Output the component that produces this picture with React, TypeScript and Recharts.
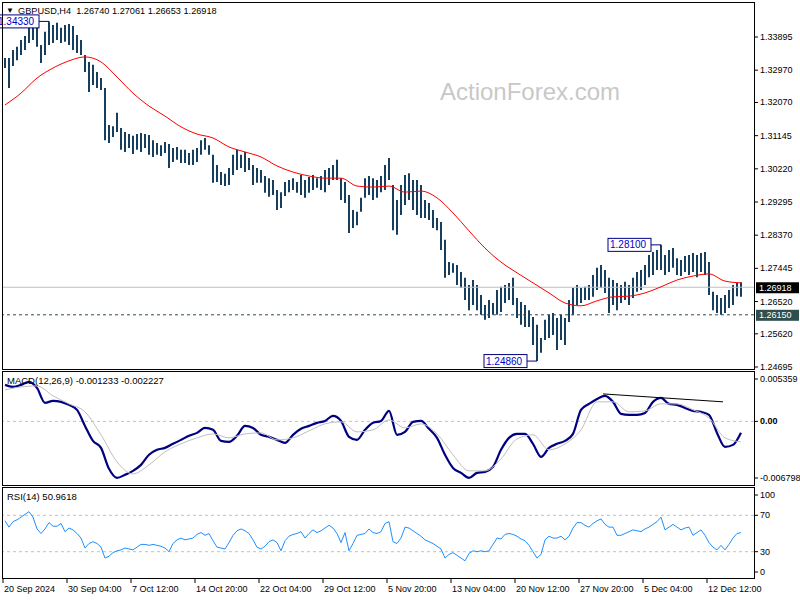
import { Bar, ComposedChart, Line, LineChart, ReferenceDot, ReferenceLine, XAxis, YAxis } from 'recharts';

const FONT = "'Liberation Sans', Arial, sans-serif";

// header
const symbol = 'GBPUSD,H4';
const lastOhlc = ['1.26740', '1.27061', '1.26653', '1.26918'];
const currentPrice = 1.26918;
const supportLevel = 1.2615;

// H4 bars, every other bar kept (oldest first)
const barHighs = [
  1.3331, 1.3331, 1.3353, 1.3362, 1.3381, 1.3392, 1.3423, 1.3429, 1.3423, 1.3367,
  1.3404, 1.3433, 1.3423, 1.3429, 1.3415, 1.3423, 1.3426, 1.342, 1.3395, 1.3381,
  1.3339, 1.332, 1.3312, 1.3292, 1.3275, 1.3247, 1.3144, 1.3141, 1.3178, 1.3136,
  1.3125, 1.3119, 1.3114, 1.3119, 1.3122, 1.3119, 1.3116, 1.3102, 1.3094, 1.3088,
  1.3097, 1.3091, 1.308, 1.3083, 1.3075, 1.3075, 1.3066, 1.3075, 1.308, 1.3102,
  1.3108, 1.3088, 1.3061, 1.3033, 1.3013, 1.3008, 1.3024, 1.3061, 1.3075, 1.3061,
  1.3069, 1.3052, 1.3033, 1.3024, 1.3019, 1.3002, 1.2996, 1.2991, 1.2963, 1.2957,
  1.2985, 1.2991, 1.2996, 1.2985, 1.3005, 1.2991, 1.2999, 1.3005, 1.2996, 1.3002,
  1.3019, 1.3024, 1.3033, 1.3047, 1.2996, 1.2985, 1.2949, 1.2907, 1.2902, 1.2941,
  1.2996, 1.3002, 1.2996, 1.2991, 1.3002, 1.3033, 1.3052, 1.2977, 1.2935, 1.2977,
  1.3005, 1.301, 1.2991, 1.2991, 1.2977, 1.2935, 1.2927, 1.2907, 1.2885, 1.2874,
  1.2824, 1.2762, 1.2759, 1.2754, 1.2734, 1.2718, 1.2698, 1.2712, 1.2698, 1.267,
  1.2642, 1.2656, 1.2648, 1.2684, 1.2693, 1.2698, 1.2704, 1.2718, 1.2662, 1.2651,
  1.2642, 1.2628, 1.2609, 1.2587, 1.255, 1.2601, 1.2615, 1.262, 1.2606, 1.2615,
  1.2606, 1.2656, 1.269, 1.2698, 1.269, 1.2693, 1.2698, 1.2726, 1.2746, 1.2754,
  1.274, 1.2718, 1.2712, 1.2704, 1.2698, 1.2707, 1.2698, 1.2718, 1.2734, 1.274,
  1.2754, 1.2782, 1.279, 1.2796, 1.281, 1.2782, 1.2796, 1.2801, 1.2773, 1.2768,
  1.2779, 1.2782, 1.2787, 1.2782, 1.2787, 1.279, 1.2762, 1.2679, 1.267, 1.2662,
  1.267, 1.2684, 1.2698, 1.2704, 1.27061,
];
const barLows = [
  1.3303, 1.3247, 1.3309, 1.3325, 1.3339, 1.3353, 1.3373, 1.3381, 1.3362, 1.3317,
  1.3339, 1.3367, 1.3373, 1.3381, 1.3373, 1.3376, 1.3367, 1.3353, 1.3345, 1.3339,
  1.3292, 1.3236, 1.3256, 1.3247, 1.3242, 1.3102, 1.3094, 1.3111, 1.3125, 1.3075,
  1.3069, 1.308, 1.3063, 1.3075, 1.3069, 1.308, 1.3061, 1.3055, 1.3061, 1.3058,
  1.3066, 1.3024, 1.3041, 1.3047, 1.3038, 1.3038, 1.3033, 1.3033, 1.3041, 1.3061,
  1.3075, 1.3061, 1.2983, 1.2985, 1.2977, 1.2974, 1.2977, 1.3005, 1.3019, 1.3024,
  1.3013, 1.3019, 1.2977, 1.2983, 1.2983, 1.2955, 1.2944, 1.2949, 1.2907, 1.2913,
  1.2946, 1.2957, 1.2963, 1.2955, 1.2949, 1.2941, 1.2955, 1.2963, 1.2969, 1.2963,
  1.2957, 1.2977, 1.2991, 1.2991, 1.2935, 1.2927, 1.2843, 1.2857, 1.2865, 1.2902,
  1.2941, 1.2949, 1.2935, 1.2941, 1.2957, 1.2963, 1.2991, 1.2851, 1.2838, 1.2893,
  1.2921, 1.2935, 1.2907, 1.2893, 1.2885, 1.2885, 1.2879, 1.2857, 1.2851, 1.2796,
  1.2718, 1.2726, 1.2732, 1.2698, 1.269, 1.2656, 1.2628, 1.2642, 1.2628, 1.2615,
  1.2601, 1.2606, 1.2615, 1.2615, 1.2623, 1.2648, 1.2656, 1.2642, 1.2606, 1.2587,
  1.2581, 1.2581, 1.2531, 1.2486, 1.2509, 1.2545, 1.255, 1.2559, 1.2517, 1.2545,
  1.2531, 1.2595, 1.2615, 1.2642, 1.2648, 1.2656, 1.2656, 1.2665, 1.2684, 1.269,
  1.2676, 1.262, 1.2642, 1.2628, 1.2648, 1.2656, 1.2642, 1.2662, 1.2679, 1.2684,
  1.2698, 1.272, 1.2726, 1.274, 1.274, 1.2726, 1.2734, 1.2746, 1.2726, 1.2723,
  1.2734, 1.2726, 1.2734, 1.272, 1.2734, 1.2726, 1.267, 1.2628, 1.262, 1.2615,
  1.262, 1.2634, 1.2642, 1.2667, 1.26653,
];

// moving average, one value every 4th kept bar
const maValues = [
  1.32, 1.3233, 1.3275, 1.3303, 1.3323, 1.3334, 1.332, 1.3278, 1.3233, 1.3197,
  1.3169, 1.3139, 1.3119, 1.3108, 1.3083, 1.3069, 1.3055, 1.303, 1.3013, 1.3002,
  1.2996, 1.2996, 1.2974, 1.2971, 1.2974, 1.2957, 1.296, 1.2941, 1.2899, 1.2849,
  1.2801, 1.2762, 1.2732, 1.2704, 1.2676, 1.2648, 1.264, 1.2654, 1.2665, 1.2667,
  1.2676, 1.2693, 1.2712, 1.2723, 1.2729, 1.2709, 1.2704,
];

// MACD main line, every 2nd kept bar
const macdValues = [
  0.00396, 0.00374, 0.00396, 0.00429, 0.00363, 0.00201, 0.00222, 0.00212, 0.00179, 0.00125,
  -0.00049, -0.00212, -0.00288, -0.00515, -0.00613, -0.0058, -0.00537, -0.00472, -0.00363, -0.00309,
  -0.00288, -0.00244, -0.00201, -0.00157, -0.00125, -0.00071, -0.00092, -0.00212, -0.00222, -0.00157,
  -0.00049, -0.00071, -0.00146, -0.00168, -0.00201, -0.00233, -0.00146, -0.00081, -0.00049, -0.00016,
  0.00005, 0.0006, 0.00005, -0.00168, -0.00201, -0.00092, -0.00016, 0.00005, 0.00114, -0.00146,
  -0.00114, -0.00005, 0.00005, -0.00081, -0.00179, -0.00363, -0.00505, -0.00559, -0.00613, -0.00559,
  -0.00548, -0.00494, -0.00309, -0.00179, -0.00136, -0.00136, -0.00244, -0.00385, -0.00288, -0.00244,
  -0.00212, -0.00136, 0.00125, 0.0019, 0.00244, 0.00277, 0.00212, 0.00081, 0.00071, 0.00071,
  0.00092, 0.00212, 0.00255, 0.0019, 0.00179, 0.00146, 0.00114, 0.00103, 0.00071, -0.00125,
  -0.00277, -0.00255, -0.001233,
];
// MACD signal line, every 4th kept bar
const signalValues = [
  0.00342, 0.00374, 0.00385, 0.00277, 0.0019, 0.00103, -0.00146, -0.00439, -0.0057, -0.00472,
  -0.00331, -0.00244, -0.00179, -0.00136, -0.00179, -0.00136, -0.00125, -0.00201, -0.00179, -0.00103,
  -0.00027, -0.00005, -0.00114, -0.00092, 0.00016, -0.00071, -0.00027, -0.00136, -0.00363, -0.00537,
  -0.00537, -0.00407, -0.0019, -0.00146, -0.00309, -0.00244, -0.00092, 0.00212, 0.00212, 0.00103,
  0.00114, 0.0019, 0.0019, 0.00125, 0.00038, -0.00179, -0.002227,
];
const macdMax = 0.005359;
const macdMin = -0.006798;
const macdTrend = [
  { x: 149.5, y: 0.00298 },
  { x: 179.5, y: 0.00212 },
];

// RSI(14), every kept bar
const rsiValues = [
  64, 57, 63, 65, 68, 71, 74, 68, 55, 50,
  55, 62, 58, 58, 61, 52, 56, 54, 50, 45,
  34, 39, 41, 39, 35, 23, 25, 29, 31, 32,
  34, 33, 32, 35, 38, 38, 37, 38, 37, 36,
  34, 30, 39, 43, 45, 43, 44, 45, 49, 51,
  48, 50, 42, 35, 34, 33, 40, 48, 53, 55,
  53, 50, 43, 35, 33, 36, 41, 43, 40, 31,
  42, 47, 49, 50, 52, 45, 50, 54, 51, 53,
  56, 59, 56, 50, 40, 51, 31, 39, 48, 49,
  50, 55, 51, 50, 52, 61, 63, 41, 39, 45,
  57, 56, 53, 50, 47, 43, 41, 39, 36, 33,
  23, 27, 29, 26, 23, 20, 28, 31, 30, 31,
  30, 31, 38, 45, 44, 49, 50, 49, 47, 44,
  42, 37, 30, 23, 27, 43, 47, 45, 45, 47,
  43, 47, 56, 62, 62, 59, 57, 61, 64, 66,
  60, 57, 57, 48, 48, 50, 52, 54, 53, 52,
  55, 57, 60, 63, 68, 54, 57, 60, 57, 54,
  56, 57, 48, 51, 54, 48, 40, 35, 32, 37,
  32, 38, 45, 50, 50.9618,
];

const priceTicks = [1.33895, 1.3297, 1.3207, 1.31145, 1.3022, 1.29295, 1.2837, 1.27445, 1.2652, 1.2562, 1.24695];
const rsiTicks = [0, 30, 70, 100];
const dateLabels = [
  '20 Sep 2024', '30 Sep 04:00', '7 Oct 12:00', '14 Oct 20:00', '22 Oct 04:00', '29 Oct 12:00',
  '5 Nov 20:00', '13 Nov 04:00', '20 Nov 12:00', '27 Nov 20:00', '5 Dec 04:00', '12 Dec 12:00',
];
const dateTickBars = [-0.5, 15.5, 31.5, 47.5, 63.5, 79.5, 95.5, 111.5, 127.5, 143.5, 159.5, 175.5];

const extremes = [
  { bar: 11, price: 1.3433, text: '1.34330' },
  { bar: 164, price: 1.281, text: '1.28100' },
  { bar: 133, price: 1.2486, text: '1.24860' },
];

const mainRows = barHighs.map((high, j) => ({
  j,
  range: [barLows[j], high],
  ma: j % 4 === 0 ? maValues[j / 4] : null,
}));
const macdRows = barHighs.map((_, j) => ({
  j,
  macd: j % 2 === 0 ? macdValues[j / 2] : null,
  signal: j % 4 === 0 ? signalValues[j / 4] : null,
}));
const rsiRows = rsiValues.map((rsi, j) => ({ j, rsi }));

const X_DOMAIN = [-0.5, 187.25];

const PriceTick = ({ x, y, payload }: any) => (
  <text x={x} y={y + 3} fontSize={9} fontFamily={FONT} fill="#000">
    {Number(payload.value).toFixed(5)}
  </text>
);

const MacdTick = ({ x, y, payload }: any) => {
  const v = payload.value;
  const ly = v === macdMax ? y + 7 : v === macdMin ? y - 6 : y;
  const label = v === 0 ? '0.00' : String(v);
  return (
    <g>
      <line x1={x - 5} x2={x - 2} y1={ly} y2={ly} stroke="#000" />
      <text x={x} y={ly + 3} fontSize={9} fontFamily={FONT} fill="#000" fontWeight={v === 0 ? 'bold' : 'normal'}>
        {label}
      </text>
    </g>
  );
};

const RsiTick = ({ x, y, payload }: any) => {
  const v = payload.value;
  const ly = v === 100 ? y + 7 : v === 0 ? y - 7 : y;
  return (
    <g>
      <line x1={x - 5} x2={x - 2} y1={ly} y2={ly} stroke="#000" />
      <text x={x} y={ly + 3} fontSize={9} fontFamily={FONT} fill="#000">
        {v}
      </text>
    </g>
  );
};

const DateTick = ({ x, y, payload }: any) => {
  const idx = dateTickBars.indexOf(payload.value);
  return (
    <text x={x + 1} y={y + 7} fontSize={9} fontFamily={FONT} fill="#000">
      {dateLabels[idx]}
    </text>
  );
};

const priceTag = (text: string, bg: string) => (props: any) => {
  const vb = props.viewBox;
  const right = vb.x + vb.width;
  return (
    <g>
      <rect x={right + 2} y={vb.y - 5} width={43} height={11} fill={bg} />
      <text x={right + 5} y={vb.y + 3.5} fontSize={9} fontFamily={FONT} fill="#fff">
        {text}
      </text>
    </g>
  );
};

const extremeShape = (text: string) => (p: any) => (
  <g>
    <line x1={p.cx - 10} x2={p.cx} y1={p.cy} y2={p.cy} stroke="#000080" />
    <rect x={p.cx - 53} y={p.cy - 6.5} width={43} height={13} fill="#fff" stroke="#000080" />
    <text x={p.cx - 51} y={p.cy + 3.5} fontSize={10} fontFamily={FONT} fill="#0000cd">
      {text}
    </text>
  </g>
);

export default function App() {
  return (
    <div style={{ position: 'absolute', left: 0, top: 0, width: 800, height: 600, background: '#fff' }}>
      <div style={{ position: 'absolute', left: 0, top: 0 }}>
        <ComposedChart width={800} height={372} data={mainRows} margin={{ top: 2, right: 0, bottom: 3, left: 3 }}>
          <XAxis type="number" dataKey="j" domain={X_DOMAIN} allowDataOverflow hide />
          <YAxis
            orientation="right"
            width={46}
            domain={[1.24639, 1.34871]}
            allowDataOverflow
            ticks={priceTicks}
            interval={0}
            tickSize={4}
            tickMargin={2}
            axisLine={false}
            tickLine={{ stroke: '#000' }}
            tick={<PriceTick />}
          />
          <ReferenceLine y={currentPrice} stroke="#c0c0c0" label={priceTag('1.26918', '#000')} />
          <ReferenceLine y={supportLevel} stroke="#2f4f4f" strokeDasharray="3 3" label={priceTag('1.26150', '#2f4f4f')} />
          <Bar dataKey="range" barSize={2} fill="#163f5f" isAnimationActive={false} />
          <Line dataKey="ma" type="monotone" stroke="#ff0000" strokeWidth={1} dot={false} connectNulls isAnimationActive={false} />
          {extremes.map((e) => (
            <ReferenceDot key={e.text} x={e.bar} y={e.price} r={0} ifOverflow="hidden" shape={extremeShape(e.text)} />
          ))}
        </ComposedChart>
      </div>

      <div style={{ position: 'absolute', left: 0, top: 372 }}>
        <LineChart width={800} height={112} data={macdRows} margin={{ top: 0, right: 0, bottom: 0, left: 3 }}>
          <XAxis type="number" dataKey="j" domain={X_DOMAIN} allowDataOverflow hide />
          <YAxis
            orientation="right"
            width={46}
            domain={[macdMin, macdMax]}
            allowDataOverflow
            ticks={[macdMax, 0, macdMin]}
            interval={0}
            tickSize={4}
            tickMargin={2}
            axisLine={false}
            tickLine={false}
            tick={<MacdTick />}
          />
          <ReferenceLine y={0} stroke="#c0c0c0" strokeDasharray="3 3" />
          <Line dataKey="macd" type="monotone" stroke="#000080" strokeWidth={2.2} dot={false} connectNulls isAnimationActive={false} />
          <Line dataKey="signal" type="monotone" stroke="#c0c0c0" strokeWidth={1} dot={false} connectNulls isAnimationActive={false} />
          <ReferenceLine segment={macdTrend} stroke="#000" />
        </LineChart>
      </div>

      <div style={{ position: 'absolute', left: 0, top: 488 }}>
        <LineChart width={800} height={113} data={rsiRows} margin={{ top: 0, right: 0, bottom: 0, left: 3 }}>
          <XAxis
            type="number"
            dataKey="j"
            domain={X_DOMAIN}
            allowDataOverflow
            ticks={dateTickBars}
            interval={0}
            height={22}
            tickSize={4}
            tickMargin={2}
            axisLine={false}
            tickLine={{ stroke: '#000' }}
            tick={<DateTick />}
          />
          <YAxis
            orientation="right"
            width={46}
            domain={[0, 100]}
            allowDataOverflow
            ticks={rsiTicks}
            interval={0}
            tickSize={4}
            tickMargin={2}
            axisLine={false}
            tickLine={false}
            tick={<RsiTick />}
          />
          <ReferenceLine y={70} stroke="#c0c0c0" strokeDasharray="3 3" />
          <ReferenceLine y={30} stroke="#c0c0c0" strokeDasharray="3 3" />
          <Line dataKey="rsi" type="linear" stroke="#1e90ff" strokeWidth={1} dot={false} isAnimationActive={false} />
        </LineChart>
      </div>

      <svg width={800} height={600} style={{ position: 'absolute', left: 0, top: 0, pointerEvents: 'none' }}>
        <rect x={2.5} y={2.5} width={752} height={367} fill="none" stroke="#000" />
        <rect x={2.5} y={371.5} width={752} height={114} fill="none" stroke="#000" />
        <rect x={2.5} y={487.5} width={752} height={91} fill="none" stroke="#000" />
        <text x={6} y={13} fontSize={8} fontFamily={FONT} fill="#000">▼</text>
        <text x={18} y={14} fontSize={9.2} fontFamily={FONT} fill="#000" style={{ whiteSpace: 'pre' }}>
          {`${symbol}  ${lastOhlc.join(' ')}`}
        </text>
        <text x={440} y={100} fontSize={24} fontFamily={FONT} fill="#c8c8c8">ActionForex.com</text>
        <text x={7} y={384} fontSize={9.5} fontFamily={FONT} fill="#000">
          {`MACD(12,26,9) ${macdValues[macdValues.length - 1]} ${signalValues[signalValues.length - 1]}`}
        </text>
        <text x={7} y={500} fontSize={9.5} fontFamily={FONT} fill="#000">
          {`RSI(14) ${rsiValues[rsiValues.length - 1]}`}
        </text>
      </svg>
    </div>
  );
}
